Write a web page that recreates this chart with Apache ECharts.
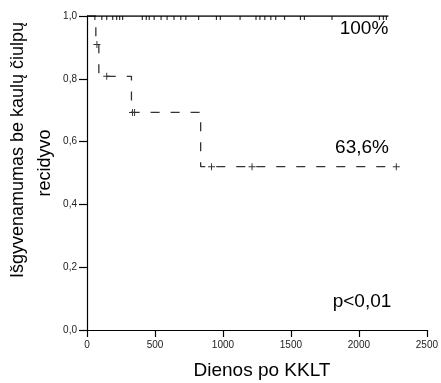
<!DOCTYPE html>
<html>
<head>
<meta charset="utf-8">
<script src="https://cdn.jsdelivr.net/npm/echarts@6/dist/echarts.min.js"></script>
<style>html,body{margin:0;padding:0;background:#fff;}#c{width:441px;height:383px;}</style>
</head>
<body>
<div id="c"></div>
<script>
// Group without relapse (solid line, 100%)
const solidDays = [0, 2217];
const solidSurv = [1.0, 1.0];
const solidCensorDays = [58, 109, 145, 189, 218, 240, 262, 407, 436, 458, 494, 545, 589, 640, 690, 727, 821, 952, 981, 1126, 1243, 1272, 1308, 1352, 1388, 1453, 1570, 1599, 1802, 2151, 2180, 2202];

// Group with relapse (dashed line, 63.6%)
const dashDays = [0, 65, 87, 327, 836, 2275];
const dashSurv = [1.0, 0.909, 0.808, 0.693, 0.52, 0.52];
const dashCensorDays = [73, 145, 335, 350, 916, 1214, 2275];
const dashCensorSurv = [0.909, 0.808, 0.693, 0.693, 0.52, 0.52, 0.52];

const xTickLabels = ['0', '500', '1000', '1500', '2000', '2500'];
const yTickLabels = ['0,0', '0,2', '0,4', '0,6', '0,8', '1,0'];

const yTitle1 = 'Išgyvenamumas be kaulų čiulpų';
const yTitle2 = 'recidyvo';
const xTitle = 'Dienos po KKLT';
const label100 = '100%';
const label636 = '63,6%';
const labelP = 'p<0,01';

const FONT = '"Liberation Sans", Arial, Helvetica, sans-serif';
const plus = 'path://M0,4.3 H10 V5.7 H0 Z M4.3,0 H5.7 V10 H4.3 Z';

const chart = echarts.init(document.getElementById('c'), null, {renderer: 'canvas'});
chart.setOption({
  animation: false,
  backgroundColor: '#fff',
  grid: {left: 87, right: 10, top: 16, bottom: 53, containLabel: false},
  xAxis: {
    type: 'value', min: 0, max: 2500, interval: 500,
    splitLine: {show: false},
    axisLine: {onZero: false, lineStyle: {color: '#000', width: 1.2}},
    axisTick: {length: 7, lineStyle: {color: '#000', width: 1.2}},
    axisLabel: {fontFamily: FONT, fontSize: 10, color: '#222', margin: 10,
      showMinLabel: true, showMaxLabel: true,
      formatter: function (v) { return xTickLabels[Math.round(v / 500)]; }}
  },
  yAxis: {
    type: 'value', min: 0, max: 1, interval: 0.2,
    splitLine: {show: false},
    axisLine: {show: true, lineStyle: {color: '#000', width: 1.2}},
    axisTick: {show: true, length: 8, lineStyle: {color: '#000', width: 1.2}},
    axisLabel: {fontFamily: FONT, fontSize: 10, color: '#222', margin: 10,
      formatter: function (v) { return yTickLabels[Math.round(v / 0.2)]; }}
  },
  series: [
    {
      type: 'line', step: 'end', symbol: 'none', silent: true,
      data: dashDays.map((d, i) => [d, dashSurv[i]]),
      lineStyle: {color: '#333', width: 1.3, type: [9, 11]}
    },
    {
      type: 'line', step: 'end', symbol: 'none', silent: true,
      data: solidDays.map((d, i) => [d, solidSurv[i]]),
      lineStyle: {color: '#000', width: 1.5, type: 'solid'}
    },
    {
      type: 'scatter', silent: true,
      symbol: 'rect', symbolSize: [1.2, 4], symbolOffset: [0, 2],
      itemStyle: {color: '#000'},
      data: solidCensorDays.map(d => [d, 1.0])
    },
    {
      type: 'scatter', silent: true,
      symbol: plus, symbolSize: 7,
      itemStyle: {color: '#000'},
      data: dashCensorDays.map((d, i) => [d, dashCensorSurv[i]])
    }
  ],
  graphic: [
    {type: 'text', x: 18, y: 150, rotation: Math.PI / 2,
      style: {text: yTitle1, font: '18px ' + FONT, fill: '#000', align: 'center', verticalAlign: 'middle'}},
    {type: 'text', x: 45, y: 163, rotation: Math.PI / 2,
      style: {text: yTitle2, font: '18px ' + FONT, fill: '#000', align: 'center', verticalAlign: 'middle'}},
    {type: 'text', x: 262, y: 371,
      style: {text: xTitle, font: '19px ' + FONT, fill: '#000', align: 'center', verticalAlign: 'middle'}},
    {type: 'text', x: 364, y: 29,
      style: {text: label100, font: '19px ' + FONT, fill: '#000', align: 'center', verticalAlign: 'middle'}},
    {type: 'text', x: 362, y: 148,
      style: {text: label636, font: '19px ' + FONT, fill: '#000', align: 'center', verticalAlign: 'middle'}},
    {type: 'text', x: 362, y: 302,
      style: {text: labelP, font: '19px ' + FONT, fill: '#000', align: 'center', verticalAlign: 'middle'}}
  ]
});
</script>
</body>
</html>
